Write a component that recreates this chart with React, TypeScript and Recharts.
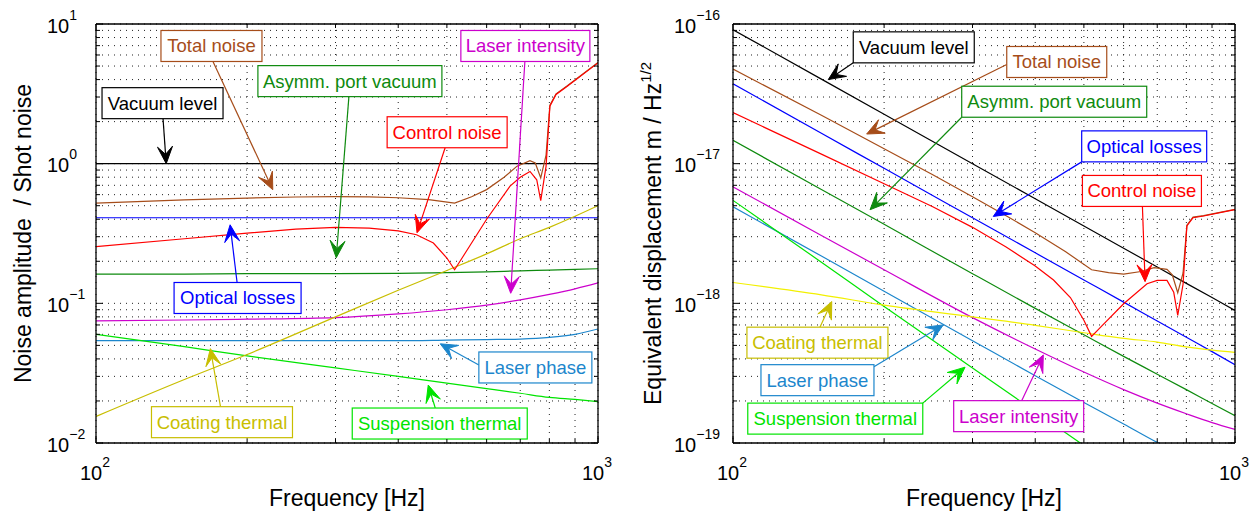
import React from 'react'
import { LineChart, Line, XAxis, YAxis, CartesianGrid, ReferenceLine } from 'recharts'

// frequency grids [Hz]
const freqs = [100, 150, 200, 300, 400, 500, 600, 700, 800, 900, 1000]
const totalFreqs = [100, 150, 200, 250, 300, 350, 400, 460, 518, 560, 600, 650, 690, 732, 750, 769, 788, 802, 825, 866, 1000]
const ctrlFreqs = [100, 150, 200, 250, 300, 350, 400, 435, 470, 500, 518, 540, 600, 668, 700, 732, 755, 769, 788, 802, 825, 866, 1000]

// left panel: noise amplitude relative to shot noise
const vacuumAmp = [1, 1, 1, 1, 1, 1, 1, 1, 1, 1, 1]
const asymmAmp = [0.162, 0.162, 0.163, 0.163, 0.164, 0.166, 0.168, 0.171, 0.173, 0.175, 0.177]
const opticalAmp = [0.41, 0.41, 0.41, 0.41, 0.41, 0.41, 0.41, 0.41, 0.41, 0.41, 0.41]
const intensityAmp = [0.075, 0.076, 0.077, 0.079, 0.084, 0.09, 0.097, 0.106, 0.116, 0.127, 0.14]
const phaseAmp = [0.054, 0.054, 0.054, 0.054, 0.054, 0.0545, 0.055, 0.0555, 0.057, 0.06, 0.0655]
const suspAmp = [0.06, 0.049, 0.042, 0.0345, 0.03, 0.0268, 0.0245, 0.0227, 0.0212, 0.0205, 0.0198]
const coatAmp = [0.0155, 0.0285, 0.043, 0.08, 0.124, 0.172, 0.226, 0.29, 0.35, 0.42, 0.5]
const totalAmp = [0.522, 0.55, 0.567, 0.577, 0.58, 0.578, 0.57, 0.552, 0.522, 0.58, 0.652, 0.8, 0.96, 1.05, 1.01, 0.79, 1.15, 2.62, 3.16, 3.58, 5.3]
const ctrlAmp = [0.255, 0.29, 0.318, 0.34, 0.35, 0.345, 0.33, 0.31, 0.27, 0.211, 0.174, 0.22, 0.4, 0.69, 0.8, 0.88, 0.767, 0.543, 0.957, 2.58, 3.13, 3.55, 5.27]

// right panel: equivalent displacement [m/sqrt(Hz)]
const vacuumDisp = [9.1e-17, 4.03e-17, 2.26e-17, 1.0e-17, 5.61e-18, 3.58e-18, 2.48e-18, 1.82e-18, 1.39e-18, 1.1e-18, 8.89e-19]
const asymmDisp = [1.47e-17, 6.53e-18, 3.68e-18, 1.63e-18, 9.2e-19, 5.95e-19, 4.17e-19, 3.11e-19, 2.41e-19, 1.92e-19, 1.57e-19]
const opticalDisp = [3.73e-17, 1.65e-17, 9.26e-18, 4.1e-18, 2.3e-18, 1.47e-18, 1.02e-18, 7.47e-19, 5.71e-19, 4.51e-19, 3.64e-19]
const intensityDisp = [6.83e-18, 3.06e-18, 1.74e-18, 7.9e-19, 4.71e-19, 3.22e-19, 2.41e-19, 1.93e-19, 1.62e-19, 1.4e-19, 1.25e-19]
const phaseDisp = [4.91e-18, 2.18e-18, 1.22e-18, 5.4e-19, 3.03e-19, 1.95e-19, 1.37e-19, 1.01e-19, 7.94e-20, 6.59e-20, 5.82e-20]
const suspDisp = [5.46e-18, 1.97e-18, 9.49e-19, 3.45e-19, 1.68e-19, 9.6e-20, 6.08e-20, 4.13e-20, 2.95e-20, 2.25e-20, 1.76e-20]
const coatDisp = [1.41e-18, 1.15e-18, 9.71e-19, 8.0e-19, 6.96e-19, 6.16e-19, 5.61e-19, 5.28e-19, 4.88e-19, 4.62e-19, 4.45e-19]
const totalDisp = [4.75e-17, 2.22e-17, 1.28e-17, 8.33e-18, 5.8e-18, 4.24e-18, 3.2e-18, 2.34e-18, 1.74e-18, 1.66e-18, 1.62e-18, 1.69e-18, 1.8e-18, 1.75e-18, 1.6e-18, 1.19e-18, 1.65e-18, 3.63e-18, 4.14e-18, 4.25e-18, 4.71e-18]
const ctrlDisp = [2.32e-17, 1.17e-17, 7.18e-18, 4.91e-18, 3.5e-18, 2.53e-18, 1.85e-18, 1.47e-18, 1.1e-18, 7.56e-19, 5.8e-19, 6.75e-19, 9.93e-19, 1.38e-18, 1.46e-18, 1.46e-18, 1.2e-18, 8.19e-19, 1.37e-18, 3.58e-18, 4.1e-18, 4.22e-18, 4.69e-18]

// axis ticks (decades + minor)
const xTicks = [100, 200, 300, 400, 500, 600, 700, 800, 900, 1000]
const decadeTicks = (lo: number, hi: number) => {
  const out: number[] = []
  for (let e = lo; e < hi; e++) for (let m = 1; m < 10; m++) out.push(m * Math.pow(10, e))
  out.push(Math.pow(10, hi))
  return out
}
const leftYTicks = decadeTicks(-2, 1)
const rightYTicks = decadeTicks(-19, -16)

const TOTAL = '#a64d1a'
const ASYMM = '#0e8a0e'
const CTRL = '#ff0000'
const LINT = '#cc00cc'
const OPT = '#0000ff'
const LPH = '#1c86cc'
const SUSP = '#00e400'
const COAT = '#c8be00'
const COAT_R = '#f2f000'
const FONT = '"Liberation Sans", Arial, Helvetica, sans-serif'

type Series = { name: string; xs: number[]; ys: number[]; color: string; curve: 'linear' | 'monotone' }
type Note = { text: string; color: string; tail: [number, number]; tip: [number, number]; box: [number, number, number] }

const leftSeries: Series[] = [
  { name: 'Vacuum level', xs: freqs, ys: vacuumAmp, color: '#000', curve: 'linear' },
  { name: 'Asymm. port vacuum', xs: freqs, ys: asymmAmp, color: ASYMM, curve: 'monotone' },
  { name: 'Optical losses', xs: freqs, ys: opticalAmp, color: OPT, curve: 'linear' },
  { name: 'Laser intensity', xs: freqs, ys: intensityAmp, color: LINT, curve: 'monotone' },
  { name: 'Laser phase', xs: freqs, ys: phaseAmp, color: LPH, curve: 'monotone' },
  { name: 'Suspension thermal', xs: freqs, ys: suspAmp, color: SUSP, curve: 'monotone' },
  { name: 'Coating thermal', xs: freqs, ys: coatAmp, color: COAT, curve: 'monotone' },
  { name: 'Total noise', xs: totalFreqs, ys: totalAmp, color: TOTAL, curve: 'linear' },
  { name: 'Control noise', xs: ctrlFreqs, ys: ctrlAmp, color: CTRL, curve: 'linear' },
]

const rightSeries: Series[] = [
  { name: 'Vacuum level', xs: freqs, ys: vacuumDisp, color: '#000', curve: 'linear' },
  { name: 'Asymm. port vacuum', xs: freqs, ys: asymmDisp, color: ASYMM, curve: 'monotone' },
  { name: 'Optical losses', xs: freqs, ys: opticalDisp, color: OPT, curve: 'monotone' },
  { name: 'Laser intensity', xs: freqs, ys: intensityDisp, color: LINT, curve: 'monotone' },
  { name: 'Laser phase', xs: freqs, ys: phaseDisp, color: LPH, curve: 'monotone' },
  { name: 'Suspension thermal', xs: freqs, ys: suspDisp, color: SUSP, curve: 'monotone' },
  { name: 'Coating thermal', xs: freqs, ys: coatDisp, color: COAT_R, curve: 'monotone' },
  { name: 'Total noise', xs: totalFreqs, ys: totalDisp, color: TOTAL, curve: 'linear' },
  { name: 'Control noise', xs: ctrlFreqs, ys: ctrlDisp, color: CTRL, curve: 'linear' },
]

// callouts: arrow from tail to tip (data coords), box offset/width in px from the tail
const leftNotes: Note[] = [
  { text: 'Total noise', color: TOTAL, tail: [171, 5.39], tip: [225, 0.651], box: [-52, -31, 101] },
  { text: 'Asymm. port vacuum', color: ASYMM, tail: [319, 3.02], tip: [301, 0.212], box: [-91, -31, 184] },
  { text: 'Vacuum level', color: '#000', tail: [136, 2.1], tip: [138, 1.0], box: [-61, -31, 121] },
  { text: 'Control noise', color: CTRL, tail: [496, 1.3], tip: [436, 0.32], box: [-58, -31, 120] },
  { text: 'Laser intensity', color: LINT, tail: [715, 5.39], tip: [670, 0.118], box: [-64, -31, 129] },
  { text: 'Optical losses', color: OPT, tail: [191, 0.141], tip: [185, 0.365], box: [-63, 0, 127] },
  { text: 'Laser phase', color: LPH, tail: [579, 0.0362], tip: [485, 0.0513], box: [0, -13, 113] },
  { text: 'Coating thermal', color: COAT, tail: [177, 0.0182], tip: [169, 0.0474], box: [-69, 0, 141] },
  { text: 'Suspension thermal', color: SUSP, tail: [474, 0.0178], tip: [459, 0.026], box: [-83, 0, 175] },
]

const rightNotes: Note[] = [
  { text: 'Vacuum level', color: '#000', tail: [173.6, 5.27e-17], tip: [154.8, 4.0e-17], box: [0, -31, 121] },
  { text: 'Total noise', color: TOTAL, tail: [351, 5.13e-17], tip: [184.6, 1.63e-17], box: [0, -18, 100] },
  { text: 'Asymm. port vacuum', color: ASYMM, tail: [285.5, 2.15e-17], tip: [187.5, 4.68e-18], box: [0, -31, 185] },
  { text: 'Optical losses', color: OPT, tail: [495, 1.03e-17], tip: [330, 4.19e-18], box: [0, -31, 125] },
  { text: 'Control noise', color: CTRL, tail: [654, 4.94e-18], tip: [662, 1.43e-18], box: [-60, -31, 119] },
  { text: 'Coating thermal', color: COAT, tail: [149, 6.75e-19], tip: [157.3, 1.03e-18], box: [-73, 0, 141] },
  { text: 'Laser phase', color: LPH, tail: [190.9, 3.52e-19], tip: [262.4, 7.01e-19], box: [-113, -2, 113] },
  { text: 'Suspension thermal', color: SUSP, tail: [238.8, 1.93e-19], tip: [289.9, 3.49e-19], box: [-175, 0, 175] },
  { text: 'Laser intensity', color: LINT, tail: [375.9, 2.01e-19], tip: [415.1, 4.27e-19], box: [-68, 0, 130] },
]

const isDecade = (v: number) => Math.abs(Math.log10(v) - Math.round(Math.log10(v))) < 1e-6
const expText = (v: number) => {
  const e = Math.round(Math.log10(v))
  return e < 0 ? `\u2212${-e}` : `${e}`
}

function PowerLabel({ x, y, v }: { x: number; y: number; v: number }) {
  return (
    <text x={x} y={y} fontSize={20} fontFamily={FONT} fill="#000">
      10
      <tspan dy={-13} fontSize={14}>{expText(v)}</tspan>
    </text>
  )
}

function XTick(props: any) {
  const { x, y, payload, side } = props
  const v = payload.value
  const major = isDecade(v)
  const len = major ? 7 : 4
  const dir = side === 'bottom' ? -1 : 1
  return (
    <g>
      <line x1={x} x2={x} y1={y} y2={y + dir * len} stroke="#000" strokeWidth={1} />
      {side === 'bottom' && major && <PowerLabel x={x - 16} y={y + 37} v={v} />}
    </g>
  )
}

function YTick(props: any) {
  const { x, y, payload, side, offset } = props
  const v = payload.value
  const major = isDecade(v)
  const len = major ? 7 : 4
  const dir = side === 'left' ? 1 : -1
  return (
    <g>
      <line x1={x} x2={x + dir * len} y1={y} y2={y} stroke="#000" strokeWidth={1} />
      {side === 'left' && major && <PowerLabel x={x - offset} y={y + 8.5} v={v} />}
    </g>
  )
}

function Callout(props: any) {
  const { x1, y1, x2, y2, note } = props
  const n: Note = note
  const dx = x2 - x1
  const dy = y2 - y1
  const len = Math.hypot(dx, dy) || 1
  const ux = dx / len
  const uy = dy / len
  const px = -uy
  const py = ux
  const L = 17
  const W = 15
  const bx = x2 - ux * L
  const by = y2 - uy * L
  const kx = x2 - ux * L * 0.55
  const ky = y2 - uy * L * 0.55
  const head = `${x2},${y2} ${bx + (px * W) / 2},${by + (py * W) / 2} ${kx},${ky} ${bx - (px * W) / 2},${by - (py * W) / 2}`
  const [ox, oy, w] = n.box
  const rx = x1 + ox
  const ry = y1 + oy
  return (
    <g>
      <line x1={x1} y1={y1} x2={kx} y2={ky} stroke={n.color} strokeWidth={1.2} />
      <polygon points={head} fill={n.color} stroke={n.color} strokeWidth={1} strokeLinejoin="miter" />
      <rect x={rx} y={ry} width={w} height={31} fill="#fff" stroke={n.color} strokeWidth={1.2} />
      <text x={rx + w / 2} y={ry + 22} textAnchor="middle" fontSize={18.5} fontFamily={FONT} fill={n.color}>
        {n.text}
      </text>
    </g>
  )
}

// axis titles: own position props (Label would override x / y)
function YTitle({ tx, children }: { tx: number; children?: React.ReactNode }) {
  return (
    <text
      transform={`translate(${tx},233.5) rotate(-90)`}
      textAnchor="middle"
      fontSize={23}
      fontFamily={FONT}
      fill="#000"
      style={{ whiteSpace: 'pre' }}
    >
      {children}
    </text>
  )
}

function XTitle({ tx }: { tx: number }) {
  return (
    <text x={tx} y={506} textAnchor="middle" fontSize={23} fontFamily={FONT} fill="#000">
      Frequency [Hz]
    </text>
  )
}

interface PanelProps {
  left: number
  width: number
  leftW: number
  rightW: number
  yDomain: [number, number]
  yTicks: number[]
  labelOffset: number
  series: Series[]
  notes: Note[]
  yTitle: React.ReactNode
  yTitleX: number
}

function Panel({ left, width, leftW, rightW, yDomain, yTicks, labelOffset, series, notes, yTitle, yTitleX }: PanelProps) {
  const axisLine = { stroke: '#000', strokeWidth: 1.3 }
  const plotMid = leftW + (width - leftW - rightW) / 2
  return (
    <div style={{ position: 'absolute', left, top: 0 }}>
      <LineChart width={width} height={515} margin={{ top: 0, right: 0, bottom: 0, left: 0 }}>
        <CartesianGrid stroke="#222" strokeDasharray="1 5" strokeWidth={1} />
        <XAxis
          dataKey="f"
          type="number"
          scale="log"
          domain={[100, 1000]}
          allowDataOverflow
          ticks={xTicks}
          interval={0}
          height={72}
          tickSize={0}
          tickMargin={0}
          tickLine={false}
          axisLine={axisLine}
          tick={<XTick side="bottom" />}
          label={<XTitle tx={plotMid} />}
        />
        <XAxis
          xAxisId="top"
          orientation="top"
          dataKey="f"
          type="number"
          scale="log"
          domain={[100, 1000]}
          allowDataOverflow
          ticks={xTicks}
          interval={0}
          height={24}
          tickSize={0}
          tickMargin={0}
          tickLine={false}
          axisLine={axisLine}
          tick={<XTick side="top" />}
        />
        <YAxis
          type="number"
          scale="log"
          domain={yDomain}
          allowDataOverflow
          ticks={yTicks}
          interval={0}
          width={leftW}
          tickSize={0}
          tickMargin={0}
          tickLine={false}
          axisLine={axisLine}
          tick={<YTick side="left" offset={labelOffset} />}
          label={<YTitle tx={yTitleX}>{yTitle}</YTitle>}
        />
        <YAxis
          yAxisId="r"
          orientation="right"
          type="number"
          scale="log"
          domain={yDomain}
          allowDataOverflow
          ticks={yTicks}
          interval={0}
          width={rightW}
          tickSize={0}
          tickMargin={0}
          tickLine={false}
          axisLine={axisLine}
          tick={<YTick side="right" />}
        />
        {series.map((s) => (
          <Line
            key={s.name}
            name={s.name}
            data={s.xs.map((f, i) => ({ f, v: s.ys[i] }))}
            dataKey="v"
            type={s.curve}
            stroke={s.color}
            strokeWidth={1.2}
            dot={false}
            activeDot={false}
            isAnimationActive={false}
          />
        ))}
        {notes.map((n) => (
          <ReferenceLine
            key={n.text}
            segment={[
              { x: n.tail[0], y: n.tail[1] },
              { x: n.tip[0], y: n.tip[1] },
            ]}
            ifOverflow="visible"
            shape={(p: any) => <Callout {...p} note={n} />}
          />
        ))}
      </LineChart>
    </div>
  )
}

export default function App() {
  return (
    <div style={{ position: 'absolute', left: 0, top: 0, width: 1258, height: 515, background: '#fff', overflow: 'hidden' }}>
      <Panel
        left={0}
        width={630}
        leftW={96}
        rightW={32}
        yDomain={[0.01, 10]}
        yTicks={leftYTicks}
        labelOffset={49}
        series={leftSeries}
        notes={leftNotes}
        yTitle={'Noise amplitude\u00a0 / Shot noise'}
        yTitleX={31}
      />
      <Panel
        left={630}
        width={628}
        leftW={103}
        rightW={23}
        yDomain={[1e-19, 1e-16]}
        yTicks={rightYTicks}
        labelOffset={59}
        series={rightSeries}
        notes={rightNotes}
        yTitle={
          <>
            Equivalent displacement m / Hz
            <tspan dy={-10} fontSize={15}>1/2</tspan>
          </>
        }
        yTitleX={31}
      />
    </div>
  )
}
